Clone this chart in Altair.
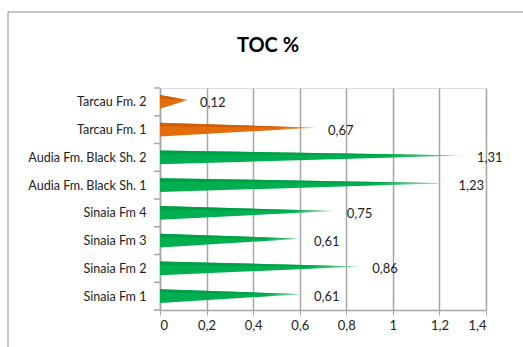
import json
import altair as alt
import pandas as pd

categories = ["Sinaia Fm 1", "Sinaia Fm 2", "Sinaia Fm 3", "Sinaia Fm 4",
              "Audia Fm. Black Sh. 1", "Audia Fm. Black Sh. 2",
              "Tarcau Fm. 1", "Tarcau Fm. 2"]
values = [0.61, 0.86, 0.61, 0.75, 1.23, 1.31, 0.67, 0.12]
families = ["green", "green", "green", "green", "green", "green", "orange", "orange"]
x_ticks = [0, 0.2, 0.4, 0.6, 0.8, 1.0, 1.2, 1.4]
title_text = "TOC %"

HALF = 0.25
TIP = 0.07
rows = []
labels = []
for i, (c, v, f) in enumerate(zip(categories, values, families)):
    rows.append(dict(cat=c, fam=f, x=0.0, top=i + HALF, bot=i - HALF, dbot=i + 0.12))
    rows.append(dict(cat=c, fam=f, x=v, top=i + TIP, bot=i + TIP, dbot=i + TIP))
    labels.append(dict(cat=c, idx=i, x=v, txt=f"{v:.2f}".replace(".", ",")))
shapes = pd.DataFrame(rows)
lab = pd.DataFrame(labels)
bounds = pd.DataFrame({"b": [i - 0.5 for i in range(len(categories) + 1)]})

FONT = "Lato"
xs = alt.Scale(domain=[0, 1.4], nice=False)
ys = alt.Scale(domain=[-0.5, len(categories) - 0.5], nice=False)

label_expr = json.dumps(categories) + "[datum.value]"

XAX = alt.Axis(values=x_ticks, grid=True, gridColor="#a6a6a6", gridWidth=1.5,
               domainColor="#a6a6a6", domainWidth=1.5, tickColor="#a6a6a6",
               tickSize=5, labelPadding=4, labelFontSize=13, labelColor="#222",
               labelFont=FONT, title=None,
               labelExpr="replace(format(datum.value, '.1~f'), '.', ',')")
YAX = alt.Axis(values=list(range(len(categories))), grid=False, ticks=False,
               domainColor="#a6a6a6", domainWidth=1.5, labelPadding=14,
               labelOverlap=False, labelBound=False, title=None,
               labelFontSize=12.6, labelColor="#222", labelFont=FONT,
               labelExpr=label_expr)


def grad(c1, c2):
    return alt.Gradient(
        gradient="linear", x1=0, x2=1, y1=0, y2=0,
        stops=[alt.GradientStop(color=c1, offset=0),
               alt.GradientStop(color=c1, offset=0.75),
               alt.GradientStop(color=c2, offset=1)])

base = alt.Chart(shapes)

def body(fam, c1, c2, dark):
    b = base.transform_filter(alt.datum.fam == fam)
    main = b.mark_area(color=grad(c1, c2), orient="vertical").encode(
        x=alt.X("x:Q", scale=xs, axis=XAX),
        y=alt.Y("top:Q", scale=ys, axis=YAX),
        y2="bot:Q",
        detail="cat:N",
    )
    top = b.mark_area(color=dark, orient="vertical", opacity=0.8).encode(
        x=alt.X("x:Q", scale=xs, axis=XAX),
        y=alt.Y("top:Q", scale=ys, axis=YAX),
        y2="dbot:Q",
        detail="cat:N",
    )
    return main + top

ticks = alt.Chart(bounds).mark_rule(color="#a6a6a6", strokeWidth=1.5).encode(
    y=alt.Y("b:Q", scale=ys, axis=YAX),
    x=alt.value(-6), x2=alt.value(0),
)

texts = alt.Chart(lab).mark_text(align="left", baseline="middle", dx=12, dy=1,
                                 fontSize=13, font=FONT, color="#222").encode(
    x=alt.X("x:Q", scale=xs, axis=XAX),
    y=alt.Y("idx:Q", scale=ys, axis=YAX),
    text="txt:N",
)

frame = alt.Chart(pd.DataFrame({"a": [0]})).mark_rect(
    fill=None, stroke="#8c8c8c", strokeWidth=1).encode(
    x=alt.value(-152), x2=alt.value(420), y=alt.value(-76), y2=alt.value(300),
)

title = alt.Chart(pd.DataFrame({"t": [title_text]})).mark_text(
    align="center", baseline="alphabetic", fontSize=20, fontWeight="bold",
    font=FONT, color="#000").encode(
    text="t:N", x=alt.value(108), y=alt.value(-36),
)

chart = alt.layer(
    frame, title, ticks,
    body("green", "#00b050", "#b8ecc8", "#009a44"),
    body("orange", "#e46c0a", "#f8c8a0", "#c85a05"),
    texts,
).properties(
    width=326, height=222,
    autosize=alt.AutoSizeParams(type="none"),
    padding={"left": 160, "top": 88, "right": 37, "bottom": 37},
).configure_view(stroke="transparent", strokeWidth=0).configure(background="white")

chart.save("out.html", embed_options={"renderer": "svg", "actions": False})
